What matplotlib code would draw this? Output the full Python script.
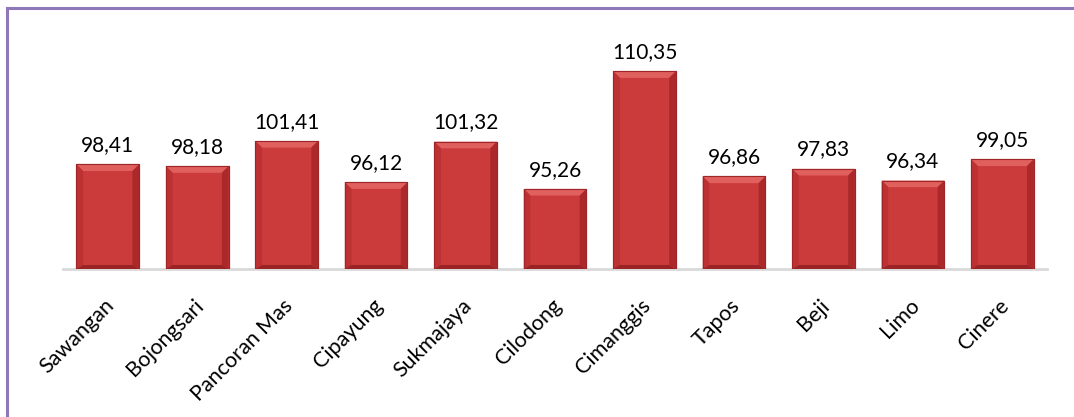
import numpy as np
import matplotlib.pyplot as plt
import matplotlib.transforms as mtransforms
from matplotlib.patches import Polygon
from matplotlib.lines import Line2D

kecamatan = ['Sawangan', 'Bojongsari', 'Pancoran Mas', 'Cipayung', 'Sukmajaya', 'Cilodong',
             'Cimanggis', 'Tapos', 'Beji', 'Limo', 'Cinere']
nilai = [98.41, 98.18, 101.41, 96.12, 101.32, 95.26, 110.35, 96.86, 97.83, 96.34, 99.05]

plt.rcParams['font.family'] = ['Lato', 'DejaVu Sans']

fig = plt.figure(figsize=(10.74, 4.17), dpi=100)
ax = fig.add_axes([0.0587, 0.355, 0.9163, 0.561])

x = np.arange(len(kecamatan))
ymin, ymax = 85, 115
bars = ax.bar(x, [v - ymin for v in nilai], bottom=ymin, width=0.70,
              color='#CC3B3C', edgecolor='#9E2628', linewidth=0.8, zorder=2)

# bevel effect on each bar
bx, by = 0.075, 0.85
for b in bars:
    x0, y0 = b.get_x(), b.get_y()
    x1, y1 = x0 + b.get_width(), y0 + b.get_height()
    top = Polygon([(x0, y1), (x1, y1), (x1 - bx, y1 - by), (x0 + bx, y1 - by)],
                  facecolor='#E0605D', edgecolor='none', zorder=3)
    left = Polygon([(x0, y0), (x0, y1), (x0 + bx, y1 - by), (x0 + bx, y0 + by * 0.6)],
                   facecolor='#BD3133', edgecolor='none', zorder=3)
    right = Polygon([(x1, y0), (x1, y1), (x1 - bx, y1 - by), (x1 - bx, y0 + by * 0.6)],
                    facecolor='#AB292B', edgecolor='none', zorder=3)
    bottom = Polygon([(x0, y0), (x1, y0), (x1 - bx, y0 + by * 0.6), (x0 + bx, y0 + by * 0.6)],
                     facecolor='#9A2325', edgecolor='none', zorder=3)
    for p in (top, left, right, bottom):
        ax.add_patch(p)
    ax.add_patch(Polygon([(x0, y0), (x1, y0), (x1, y1), (x0, y1)], closed=True,
                         facecolor='none', edgecolor='#9E2628', linewidth=0.8, zorder=4))

for xi, v in zip(x, nilai):
    ax.text(xi, v + 1.2, f'{v:.2f}'.replace('.', ','), ha='center', va='bottom',
            fontsize=15, color='#000000')

ax.set_xlim(-0.5, len(kecamatan) - 0.5)
ax.set_ylim(ymin, ymax)
ax.set_xticks(x)
ax.set_xticklabels(kecamatan, rotation=45, ha='right', va='top', rotation_mode='anchor',
                   fontsize=15.5)
ax.tick_params(axis='x', length=0, pad=19)
shift = mtransforms.ScaledTranslation(-4 / 100, 0, fig.dpi_scale_trans)
for lbl in ax.get_xticklabels():
    lbl.set_transform(lbl.get_transform() + shift)
ax.set_yticks([])
for s in ['top', 'right', 'left']:
    ax.spines[s].set_visible(False)
ax.spines['bottom'].set_color('#D9D9D9')
ax.spines['bottom'].set_linewidth(2)
ax.spines['bottom'].set_zorder(1)

# outer frame (left and top edges)
fx, fy = 7.5 / 1074, 1 - 7.5 / 417
fig.add_artist(Line2D([fx, fx], [0, fy], color='#8E78B8', linewidth=2.2))
fig.add_artist(Line2D([fx, 1], [fy, fy], color='#8E78B8', linewidth=2.2))

fig.savefig('out.png', dpi=100)
